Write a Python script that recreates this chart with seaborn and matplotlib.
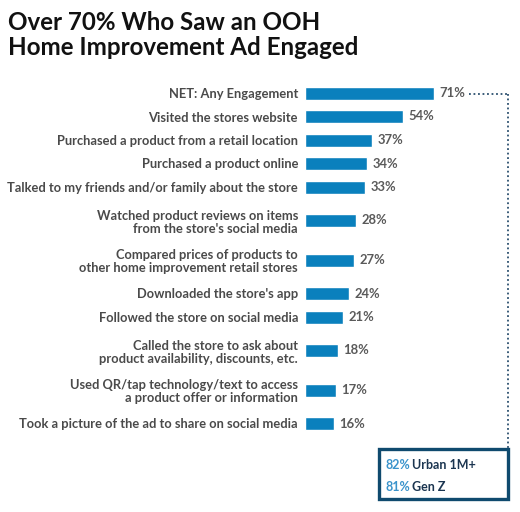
import matplotlib
matplotlib.use("Agg")
import matplotlib.pyplot as plt
import seaborn as sns
import pandas as pd
from matplotlib.patches import Rectangle
from matplotlib.lines import Line2D

# ---------------- data ----------------
categories = [
    "NET: Any Engagement",
    "Visited the stores website",
    "Purchased a product from a retail location",
    "Purchased a product online",
    "Talked to my friends and/or family about the store",
    "Watched product reviews on items\nfrom the store's social media",
    "Compared prices of products to\nother home improvement retail stores",
    "Downloaded the store's app",
    "Followed the store on social media",
    "Called the store to ask about\nproduct availability, discounts, etc.",
    "Used QR/tap technology/text to access\na product offer or information",
    "Took a picture of the ad to share on social media",
]
values = [71, 54, 37, 34, 33, 28, 27, 24, 21, 18, 17, 16]
callout_values = [82, 81]
callout_labels = ["Urban 1M+", "Gen Z"]
title = "Over 70% Who Saw an OOH\nHome Improvement Ad Engaged"

# ---------------- layout ----------------
W, H = 520, 512
sns.set_theme(style="white")
plt.rcParams["font.family"] = ["Lato", "DejaVu Sans"]

fig = plt.figure(figsize=(W / 100, H / 100), dpi=100)

# row positions (pixel units) derived from how many lines each label has
nlines = [c.count("\n") + 1 for c in categories]
ypos = [93.0]
for i in range(1, len(categories)):
    a, b = nlines[i - 1], nlines[i]
    if a == 1 and b == 1:
        gap = 23.5
    elif a == 2 and b == 2:
        gap = 39.5
    else:
        gap = 33.5
    ypos.append(ypos[-1] + gap)

ax_left, ax_right = 305, 520
ax = fig.add_axes([ax_left / W, 0, (ax_right - ax_left) / W, 1])

df = pd.DataFrame({"value": values, "y": ypos})
sns.barplot(data=df, x="value", y="y", orient="y", native_scale=True,
            color="#0a80bd", saturation=1, width=13 / 23.5, ax=ax, errorbar=None)

ax.set_xlim(0, max(values) * (ax_right - ax_left) / 129)
ax.set_ylim(H, 0)
ax.set_yticks(ypos)
ax.set_yticklabels(categories, fontsize=9.25, fontweight="bold", color="#4a4a4a",
                   linespacing=1.15, ha="right")
ax.tick_params(axis="y", length=0, pad=5)
ax.set_xticks([])
ax.set_xlabel("")
ax.set_ylabel("")
for s in ax.spines.values():
    s.set_visible(False)
ax.patch.set_alpha(0)

for cont in ax.containers:
    ax.bar_label(cont, labels=[f"{v}%" for v in values], padding=4,
                 fontsize=9.4, fontweight="bold", color="#5a5a5a")

# ---------------- title ----------------
def fx(x):
    return x / W

def fy(y):
    return 1 - y / H

fig.text(fx(8), fy(11), title, ha="left", va="top", fontsize=17.4,
         fontweight="bold", color="#111111", linespacing=1.08)

# ---------------- dotted connector ----------------
lc = "#2b4f6e"
fig.add_artist(Line2D([fx(469), fx(508)], [fy(94), fy(94)], transform=fig.transFigure,
                      color=lc, lw=1.3, linestyle=(0, (1, 1.5))))
fig.add_artist(Line2D([fx(508), fx(508)], [fy(94), fy(448)], transform=fig.transFigure,
                      color=lc, lw=1.3, linestyle=(0, (1, 1.5))))

# ---------------- callout box ----------------
fig.add_artist(Rectangle((fx(379), fy(499)), fx(508) - fx(379), fy(449) - fy(499),
                         transform=fig.transFigure, facecolor="white",
                         edgecolor="#0f4a6e", lw=2.4))

renderer = fig.canvas.get_renderer()
line_y = [465, 487]
for v, lab, yy in zip(callout_values, callout_labels, line_y):
    t = fig.text(fx(385), fy(yy), f"{v}%", ha="left", va="center", fontsize=9,
                 fontweight="bold", color="#3a93cb")
    bb = t.get_window_extent(renderer=renderer)
    fig.text(bb.x1 / W + fx(2), fy(yy), lab, ha="left", va="center", fontsize=9,
             fontweight="bold", color="#1b3550")

fig.savefig("out.png", dpi=100)
